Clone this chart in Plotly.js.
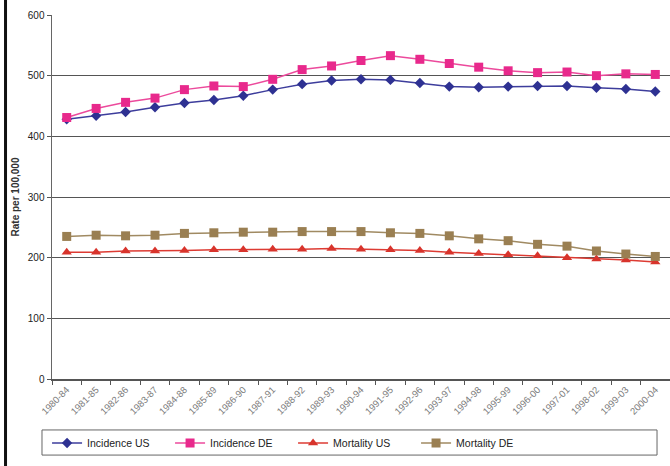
<!DOCTYPE html>
<html>
<head>
<meta charset="utf-8">
<script src="https://cdn.plot.ly/plotly-3.0.1.min.js"></script>
<style>
html,body{margin:0;padding:0;background:#fff;}
#chart{width:670px;height:466px;}
</style>
</head>
<body>
<div id="chart"></div>
<script>
const periods = ["1980-84","1981-85","1982-86","1983-87","1984-88","1985-89","1986-90","1987-91","1988-92","1989-93","1990-94","1991-95","1992-96","1993-97","1994-98","1995-99","1996-00","1997-01","1998-02","1999-03","2000-04"];
const incidenceUS = [428,434,440,448,455,460,467,477,486,492,494,493,488,482,481,482,483,483,480,478,474];
const incidenceDE = [431,446,456,463,477,483,482,494,510,516,525,533,527,520,514,508,505,506,500,503,502];
const mortalityUS = [209,209,211,211,212,213,213,214,214,215,214,213,212,209,207,205,203,200,198,196,193];
const mortalityDE = [235,237,236,237,240,241,242,242,243,243,243,241,240,236,231,228,222,219,211,206,202];

const font = "Liberation Sans, Arial, sans-serif";

function tr(name, y, color, lineColor, symbol, size){
  return {
    type:"scatter", mode:"lines+markers", name:name, x:periods, y:y,
    line:{color:lineColor, width:1.5},
    marker:{symbol:symbol, size:size, color:color}
  };
}
const data = [
  tr("Incidence US", incidenceUS, "#2e3192", "#3d3d9c", "diamond", 8),
  tr("Incidence DE", incidenceDE, "#e8298c", "#ec4a9c", "square", 9),
  tr("Mortality US", mortalityUS, "#d8342c", "#dd3b33", "triangle-up", 9),
  tr("Mortality DE", mortalityDE, "#9a7f52", "#a08a62", "square", 9)
];

const layout = {
  width:670, height:466,
  margin:{l:52, r:0, t:15, b:87, autoexpand:false},
  paper_bgcolor:"#fff", plot_bgcolor:"#fff",
  font:{family:font, size:10, color:"#222"},
  showlegend:true,
  legend:{
    orientation:"h", x:-0.008, xanchor:"left", y:-0.136, yanchor:"top",
    font:{family:font, size:10.5, color:"#222"},
    entrywidth:78, itemwidth:30, bgcolor:"rgba(0,0,0,0)", borderwidth:0
  },
  xaxis:{
    type:"category", tickson:"boundaries", ticks:"outside", ticklen:4, tickcolor:"#555",
    showline:true, linecolor:"#555", linewidth:1.5, showgrid:false, automargin:false,
    tickangle:-45, tickfont:{family:font, size:9.5, color:"#7a7a7a"},
    range:[-0.5,20.5], zeroline:false
  },
  yaxis:{
    range:[0,600], dtick:100, ticks:"outside", ticklen:4, tickcolor:"#555",
    showline:true, linecolor:"#666", linewidth:1.5, automargin:false,
    showgrid:true, gridcolor:"#555", gridwidth:1, zeroline:false,
    tickfont:{family:font, size:10, color:"#222"},
    title:{text:"<b>Rate per 100,000</b>", font:{family:font, size:10, color:"#333"}, standoff:6}
  },
  shapes:[
    {type:"rect", xref:"paper", yref:"paper", x0:-0.0162, x1:0.979, y0:-0.14, y1:-0.209,
     line:{color:"#666", width:1}, fillcolor:"rgba(0,0,0,0)"},
    {type:"line", xref:"paper", yref:"paper", x0:-0.0752, x1:-0.0752, y0:-0.25, y1:1.05,
     line:{color:"#111", width:3}}
  ]
};
Plotly.newPlot("chart", data, layout, {displayModeBar:false, staticPlot:true});
</script>
</body>
</html>
